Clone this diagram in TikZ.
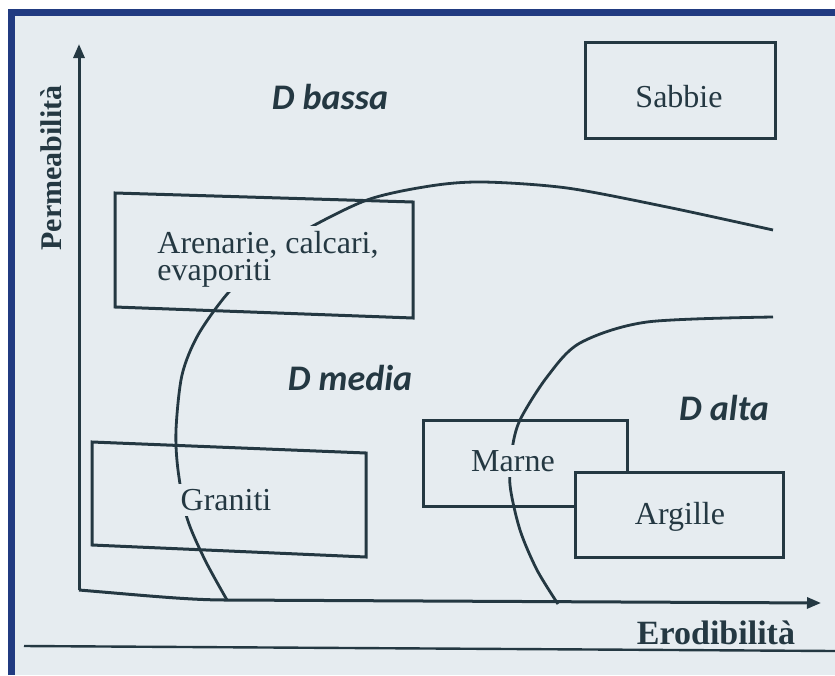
\documentclass[tikz,border=0pt]{standalone}
\usepackage{fontspec}
\setmainfont{Liberation Serif}
\newfontfamily\zonefont{Carlito}
\usetikzlibrary{arrows.meta}
\definecolor{paper}{RGB}{230,236,240}
\definecolor{ink}{RGB}{36,56,66}
\definecolor{frameblue}{RGB}{33,59,129}
\tikzset{
  rock/.style={draw=ink,line width=3pt},
  rocktext/.style={text=ink,fill=paper,inner sep=5pt,align=left,font=\fontsize{32}{27}\selectfont},
  zone/.style={text=ink,font=\zonefont\bfseries\itshape\fontsize{36}{40}\selectfont},
  axislabel/.style={text=ink,font=\bfseries\fontsize{34}{38}\selectfont},
  border/.style={draw=ink,line width=2.8pt},
  axis/.style={draw=ink,line width=3pt,-{Triangle[length=14pt,width=11pt]}}
}
\begin{document}
\begin{tikzpicture}[x=1pt,y=-1pt]
\useasboundingbox (0,0) rectangle (835,675);
\fill[paper] (11,12) rectangle (835,675);
\draw[frameblue,line width=7pt] (11.5,675) -- (11.5,12) -- (835,12);

\coordinate (O) at (79,590);
\coordinate (ytip) at (79,44);
\coordinate (bend) at (227,600);
\coordinate (xtip) at (821,603);
\draw[axis] (O) -- (ytip);
\draw[axis] (O) .. controls (150,596) and (190,600) .. (bend) -- (xtip);
\draw[ink,line width=2.4pt] (24,646) -- (835,651);

\node[rock,minimum width=190pt,minimum height=96pt] (sabbie) at (680,90) {};
\draw[rock] (115,193) -- (413,202) -- (413,318) -- (115,307) -- cycle;
\draw[rock] (92,442) -- (366,453) -- (366,557) -- (92,545) -- cycle;
\node[rock,minimum width=204pt,minimum height=86pt] (marne) at (525,463) {};
\node[rock,fill=paper,minimum width=208pt,minimum height=85pt] (argille) at (679,514.5) {};

\draw[border] plot[smooth] coordinates {(227,600) (205,560) (187,518) (178,470) (176,430) (182,375) (198,335) (228,293) (265,258) (302,232) (367,200) (430,186) (483,182) (567,188) (667,207) (773,230)};
\draw[border] plot[smooth] coordinates {(558,604) (537,570) (520,530) (510,485) (512,450) (520,420) (547,377) (580,343) (647,322) (773,317)};

\node[rocktext] (sabbieTxt) at (679,97) {Sabbie};
\node[rocktext] (arenarieTxt) at (268,259) {Arenarie, calcari,\\evaporiti};
\node[rocktext] (granitiTxt) at (226,500) {Graniti};
\node[rocktext] (marneTxt) at (513,461) {Marne};
\node[rocktext] (argilleTxt) at (680,517) {Argille};

\node[zone] (bassa) at (330,97) {D bassa};
\node[zone] (media) at (350,378) {D media};
\node[zone] (alta) at (724,408) {D alta};

\node[axislabel,rotate=90,font=\bfseries\fontsize{30}{34}\selectfont] (perm) at (51,168) {Permeabilità};
\node[axislabel] (erod) at (716,633) {Erodibilità};
\end{tikzpicture}
\end{document}
